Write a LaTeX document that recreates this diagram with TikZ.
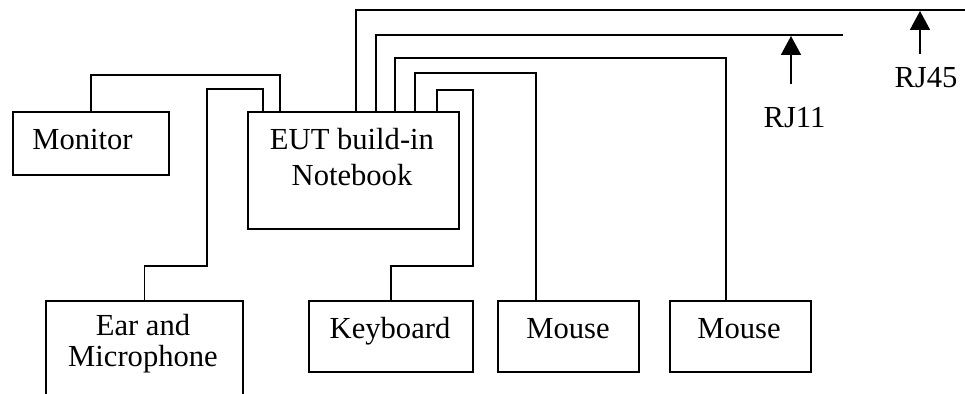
\documentclass[tikz,border=0pt]{standalone}
\usepackage{fontspec}
\setmainfont{Liberation Serif}
\usetikzlibrary{arrows.meta}
\begin{document}
\begin{tikzpicture}[x=0.5pt,y=-0.5pt,
  box/.style={draw, line width=0.9pt, inner sep=0pt, anchor=north west},
  wire/.style={line width=0.9pt},
  lbl/.style={inner sep=0pt, anchor=base, font=\fontsize{15.3}{18}\selectfont},
  pointer/.style={line width=0.9pt, -{Triangle[width=10pt,length=9.5pt]}}]
\useasboundingbox (0,0) rectangle (965,394);
% boxes
\node[box, minimum width=78pt, minimum height=31.5pt] (mon) at (12,111) {};
\node[box, minimum width=105.5pt, minimum height=58.5pt] (nb) at (247,111) {};
\node[box, minimum width=98.5pt, minimum height=60pt] (ear) at (45,300) {};
\node[box, minimum width=82pt, minimum height=35.5pt] (kb) at (308,300) {};
\node[box, minimum width=70.5pt, minimum height=35.5pt] (ma) at (497,300) {};
\node[box, minimum width=70.5pt, minimum height=35.5pt] (mb) at (669,300) {};
% labels
\node[lbl] (monl) at (82.5,150) {Monitor};
\node[lbl] (nbl1) at (352,150) {EUT build-in};
\node[lbl] (nbl2) at (352,186) {Notebook};
\node[lbl] (earl1) at (143,336) {Ear and};
\node[lbl] (earl2) at (143,367) {Microphone};
\node[lbl] (kbl) at (390,339) {Keyboard};
\node[lbl] (mal) at (568,339) {Mouse};
\node[lbl] (mbl) at (739,339) {Mouse};
\node[lbl] (rj11) at (794.5,128) {RJ11};
\node[lbl] (rj45) at (926,88) {RJ45};
% connectors
\draw[wire] (mon.north) |- (280,75) -- (nb.north -| 280,0);
\draw[wire] (ear.north) |- (207,266) |- (263,89) -- (nb.north -| 263,0);
\draw[wire] (kb.north) |- (473,266) |- (437,90) -- (nb.north -| 437,0);
\draw[wire] (ma.north -| 536,0) |- (415,73) -- (nb.north -| 415,0);
\draw[wire] (mb.north -| 726,0) |- (395,58) -- (nb.north -| 395,0);
\coordinate (rj11end) at (843,35);
\coordinate (rj45end) at (965,10);
\draw[wire] (nb.north -| 376,0) |- (rj11end);
\draw[wire] (nb.north -| 356,0) |- (rj45end);
\coordinate (rj11tip) at (791,36);
\coordinate (rj45tip) at (920,11);
\draw[pointer] (791,84) -- (rj11tip);
\draw[pointer] (920,54) -- (rj45tip);
\end{tikzpicture}
\end{document}
